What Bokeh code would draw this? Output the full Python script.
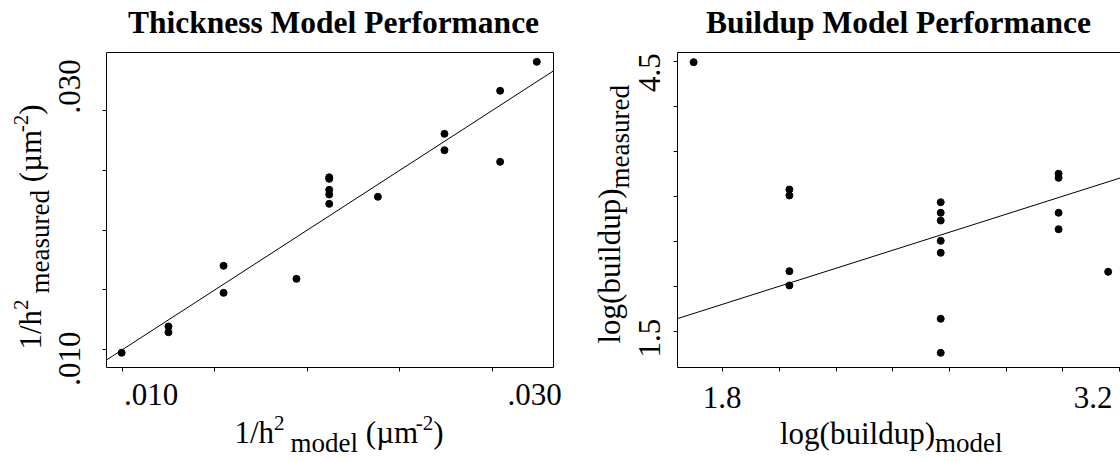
import math
from bokeh.plotting import figure
from bokeh.layouts import row
from bokeh.models import Label, FixedTicker, LinearAxis, Range1d, CustomJSTickFormatter
from bokeh.embed import file_html
from bokeh.resources import INLINE

# ---------------- data ----------------
thick_model = [0.00997, 0.0125, 0.0125, 0.01548, 0.01548, 0.01942,
               0.02119, 0.02119, 0.02119, 0.02119, 0.02119, 0.02382,
               0.02742, 0.02742, 0.03043, 0.03043, 0.03241]
thick_measured = [0.00975, 0.01195, 0.01147, 0.01702, 0.01476, 0.01593,
                  0.02442, 0.02429, 0.02337, 0.02298, 0.02220, 0.02279,
                  0.02805, 0.02668, 0.03165, 0.02571, 0.03407]
thick_xlim = (0.009151, 0.033314)
thick_ylim = (0.008521, 0.034847)
thick_ticks = [0.010, 0.015, 0.020, 0.025, 0.030]
thick_tick_labels = [(0.010, ".010"), (0.030, ".030")]

build_model = [1.697, 2.035, 2.035, 2.035, 2.035,
               2.569, 2.569, 2.569, 2.569, 2.569, 2.569, 2.569,
               2.985, 2.985, 2.985, 2.985, 3.160]
build_measured = [4.489, 3.074, 3.008, 2.167, 2.008,
                  2.933, 2.816, 2.730, 2.504, 2.371, 1.638, 1.260,
                  3.249, 3.204, 2.816, 2.633, 2.160]
build_xlim = (1.6401, 3.2035)
build_ylim = (1.0967, 4.5967)
build_xticks = [1.8, 2.0, 2.2, 2.4, 2.6, 2.8, 3.0, 3.2]
build_yticks = [1.5, 2.0, 2.5, 3.0, 3.5, 4.0, 4.5]
build_xtick_labels = [(1.8, "1.8"), (3.2, "3.2")]
build_ytick_labels = [(1.5, "1.5"), (4.5, "4.5")]

# ---------------- styling ----------------
SERIF = "Liberation Serif"
MAIN, SUB, SUP = 31, 27, 21
SUB_SHIFT, SUP_SHIFT = 8.5, -13
BASE_FIX = 0.37          # Bokeh label baseline correction (fraction of font size)
CANVAS_H, BOX_TOP, BOX_BOTTOM = 460, 52, 367
W = {" ": 250, "(": 333, ")": 333, "-": 333, ".": 250, "/": 278,
     "a": 444, "b": 500, "d": 500, "e": 444, "g": 500, "h": 500, "i": 278,
     "l": 278, "m": 778, "o": 500, "p": 500, "r": 333, "s": 389, "u": 500,
     "\u00b5": 500}


def adv(s, size):
    return sum(W.get(c, 500) for c in s) * size / 1000.0


def label(p, text, x, y, dx, dy, size, angle=0.0, align="left", bold=False):
    """(x, y) data anchor; dx px to the right, dy px downward (baseline position)."""
    fix = BASE_FIX * size
    dx -= fix * math.sin(angle)
    dy -= fix * math.cos(angle)
    p.add_layout(Label(x=x, y=y, x_units="data", y_units="data",
                       x_offset=dx, y_offset=-dy, text=text,
                       text_font=SERIF, text_font_size=f"{size}px",
                       text_font_style="bold" if bold else "normal",
                       text_color="black", text_align=align,
                       text_baseline="alphabetic", angle=angle))


def run(p, xlim, ylim, pieces, dx, dy, vertical=False):
    pos = 0.0
    for txt, kind, gap in pieces:
        size = {"m": MAIN, "b": SUB, "p": SUP}[kind]
        shift = {"m": 0, "b": SUB_SHIFT, "p": SUP_SHIFT}[kind]
        pos += gap
        if vertical:
            label(p, txt, xlim[0], ylim[0], dx + shift, dy - pos, size, angle=math.pi / 2)
        else:
            label(p, txt, xlim[0], ylim[0], dx + pos, dy + shift, size)
        pos += adv(txt, size)


def make_panel(xlim, ylim, xticks, yticks, canvas_w, box_left, box_right, right_edge):
    # the frame fills the canvas; the plot box is drawn by axes fixed at the box edges
    sx = (box_right - box_left) / (xlim[1] - xlim[0])
    sy = (BOX_BOTTOM - BOX_TOP) / (ylim[1] - ylim[0])
    xr = Range1d(xlim[0] - box_left / sx, xlim[1] + (canvas_w - box_right) / sx)
    yr = Range1d(ylim[0] - (CANVAS_H - BOX_BOTTOM) / sy, ylim[1] + BOX_TOP / sy)
    p = figure(width=canvas_w, height=CANVAS_H, x_range=xr, y_range=yr,
               output_backend="svg", toolbar_location=None, x_axis_location=None,
               y_axis_location=None, min_border=0,
               background_fill_color="white", border_fill_color="white")
    p.grid.visible = False
    p.outline_line_color = None

    def axis(side, loc, bounds, ticks):
        ax = LinearAxis(fixed_location=loc, bounds=bounds, ticker=FixedTicker(ticks=ticks),
                        formatter=CustomJSTickFormatter(code="return ''"),
                        major_tick_out=4, major_tick_in=0, minor_tick_line_color=None,
                        major_tick_line_color="black", axis_line_color="black",
                        axis_line_width=1, major_label_text_font_size="10px")
        p.add_layout(ax, side)

    axis("below", ylim[0], xlim, xticks)
    axis("left", xlim[0], ylim, yticks)
    axis("above", ylim[1], xlim, [])
    if right_edge:
        axis("right", xlim[1], ylim, [])
    return p


# ---------------- left panel ----------------
p1 = make_panel(thick_xlim, thick_ylim, thick_ticks, thick_ticks, 573, 106, 553, True)
p1.scatter(thick_model, thick_measured, size=7, color="black", marker="circle")
p1.line(list(thick_xlim), list(thick_xlim), line_color="black", line_width=1)

label(p1, "Thickness Model Performance", sum(thick_xlim) / 2, thick_ylim[1], 3.5, -18,
      31.5, align="center", bold=True)
xoff1 = {".010": 29, ".030": 42.5}
for v, t in thick_tick_labels:
    label(p1, t, v, thick_ylim[0], xoff1[t], 38, MAIN, align="center")
yoff1 = {".010": 8.7, ".030": -24}
for v, t in thick_tick_labels:
    label(p1, t, thick_xlim[0], v, -26, yoff1[t], MAIN, angle=math.pi / 2, align="center")
SP = adv(" ", MAIN)
run(p1, thick_xlim, thick_ylim,
    [("1/h", "m", 0), ("2", "p", 0), ("model", "b", 6), ("(\u00b5m", "m", SP),
     ("-2", "p", 0), (")", "m", 0)], 128, 76.5)
run(p1, thick_xlim, thick_ylim,
    [("1/h", "m", 0), ("2", "p", 0), ("measured", "b", 6), ("(\u00b5m", "m", SP),
     ("-2", "p", 0), (")", "m", 0)], -65, -18, vertical=True)

# ---------------- right panel ----------------
p2 = make_panel(build_xlim, build_ylim, build_xticks, build_yticks, 547, 104, 547, False)
p2.scatter(build_model, build_measured, size=7, color="black", marker="circle")
p2.line(list(build_xlim), list(build_xlim), line_color="black", line_width=1)

label(p2, "Buildup Model Performance", sum(build_xlim) / 2, build_ylim[1], -0.5, -18,
      31.5, align="center", bold=True)
xoff2 = {"1.8": -0.6, "3.2": -26.5}
for v, t in build_xtick_labels:
    label(p2, t, v, build_ylim[0], xoff2[t], 41, MAIN, align="center")
yoff2 = {"1.5": 6.8, "4.5": 11.3}
for v, t in build_ytick_labels:
    label(p2, t, build_xlim[0], v, -17, yoff2[t], MAIN, angle=math.pi / 2, align="center")
run(p2, build_xlim, build_ylim, [("log(buildup)", "m", 0), ("model", "b", 0)], 102.5, 77)
run(p2, build_xlim, build_ylim, [("log(buildup)", "m", 0), ("measured", "b", 0)],
    -56.5, -24, vertical=True)

layout = row(p1, p2, spacing=0)
open("out.html", "w").write(file_html(layout, INLINE))
